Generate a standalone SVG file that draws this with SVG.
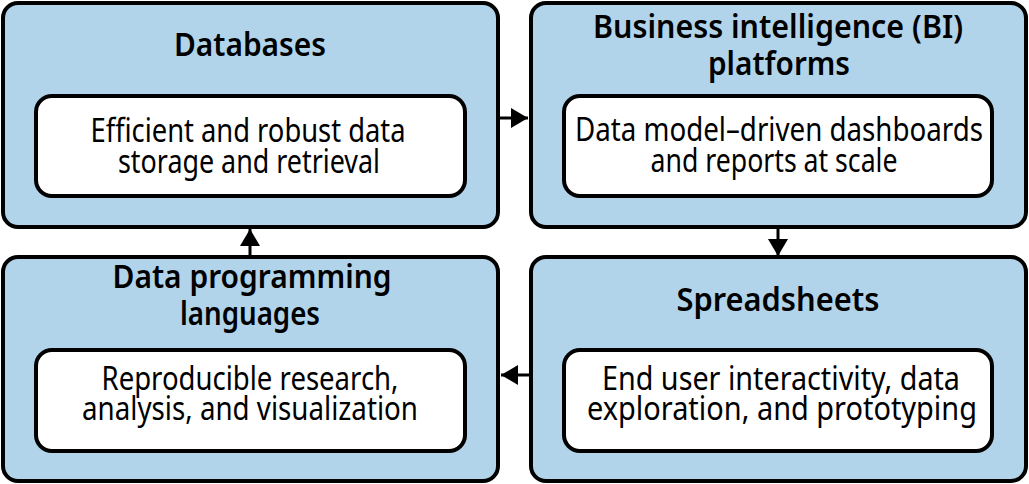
<svg xmlns="http://www.w3.org/2000/svg" width="1029" height="484" viewBox="0 0 1029 484">
<style>
.outer{fill:#b1d4ea;stroke:#000;stroke-width:4}
.inner{fill:#fff;stroke:#000;stroke-width:4}
.title{font-family:"Noto Sans","Liberation Sans",sans-serif;font-size:33px;font-weight:600;fill:#000;text-anchor:middle}
.body{font-family:"Noto Sans","Liberation Sans",sans-serif;font-size:32px;font-weight:400;fill:#000;text-anchor:middle}
.conn{stroke:#000;stroke-width:3;fill:none}
</style>
<defs>
<marker id="ah" markerUnits="userSpaceOnUse" markerWidth="18" markerHeight="20" refX="17" refY="10" orient="auto">
<path d="M0,0 L17,10 L0,20 Z" fill="#000"/>
</marker>
</defs>
<rect width="1029" height="484" fill="#fff"/>
<g id="databases">
<rect class="outer" x="3" y="3" width="495" height="224" rx="15"/>
<text class="title" x="250" y="56" textLength="152" lengthAdjust="spacingAndGlyphs">Databases</text>
<rect class="inner" x="36" y="96" width="429" height="100" rx="16"/>
<text class="body" x="248" y="142" textLength="315" lengthAdjust="spacingAndGlyphs">Efficient and robust data</text>
<text class="body" x="249" y="173" textLength="262" lengthAdjust="spacingAndGlyphs">storage and retrieval</text>
</g>
<g id="bi">
<rect class="outer" x="531" y="3" width="495" height="224" rx="15"/>
<text class="title" x="778" y="38" textLength="370" lengthAdjust="spacingAndGlyphs">Business intelligence (BI)</text>
<text class="title" x="779" y="75" textLength="142" lengthAdjust="spacingAndGlyphs">platforms</text>
<rect class="inner" x="564" y="96" width="428" height="100" rx="16"/>
<text class="body" x="779" y="141" textLength="408" lengthAdjust="spacingAndGlyphs">Data model–driven dashboards</text>
<text class="body" x="774" y="172" textLength="247" lengthAdjust="spacingAndGlyphs">and reports at scale</text>
</g>
<g id="spreadsheets">
<rect class="outer" x="531" y="257" width="495" height="224" rx="15"/>
<text class="title" x="778" y="311" textLength="203" lengthAdjust="spacingAndGlyphs">Spreadsheets</text>
<rect class="inner" x="564" y="350" width="428" height="101" rx="16"/>
<text class="body" x="781" y="390" textLength="358" lengthAdjust="spacingAndGlyphs">End user interactivity, data</text>
<text class="body" x="782" y="420" textLength="390" lengthAdjust="spacingAndGlyphs">exploration, and prototyping</text>
</g>
<g id="programming">
<rect class="outer" x="3" y="257" width="495" height="224" rx="15"/>
<text class="title" x="252" y="288" textLength="279" lengthAdjust="spacingAndGlyphs">Data programming</text>
<text class="title" x="250" y="325" textLength="140" lengthAdjust="spacingAndGlyphs">languages</text>
<rect class="inner" x="36" y="350" width="429" height="101" rx="16"/>
<text class="body" x="250" y="390" textLength="297" lengthAdjust="spacingAndGlyphs">Reproducible research,</text>
<text class="body" x="250" y="420" textLength="336" lengthAdjust="spacingAndGlyphs">analysis, and visualization</text>
</g>
<g id="connectors">
<line class="conn" x1="500" y1="118" x2="528" y2="118" marker-end="url(#ah)"/>
<line class="conn" x1="778" y1="229" x2="778" y2="256" marker-end="url(#ah)"/>
<line class="conn" x1="530" y1="375" x2="501" y2="375" marker-end="url(#ah)"/>
<line class="conn" x1="250" y1="257" x2="250" y2="229" marker-end="url(#ah)"/>
</g>
</svg>
